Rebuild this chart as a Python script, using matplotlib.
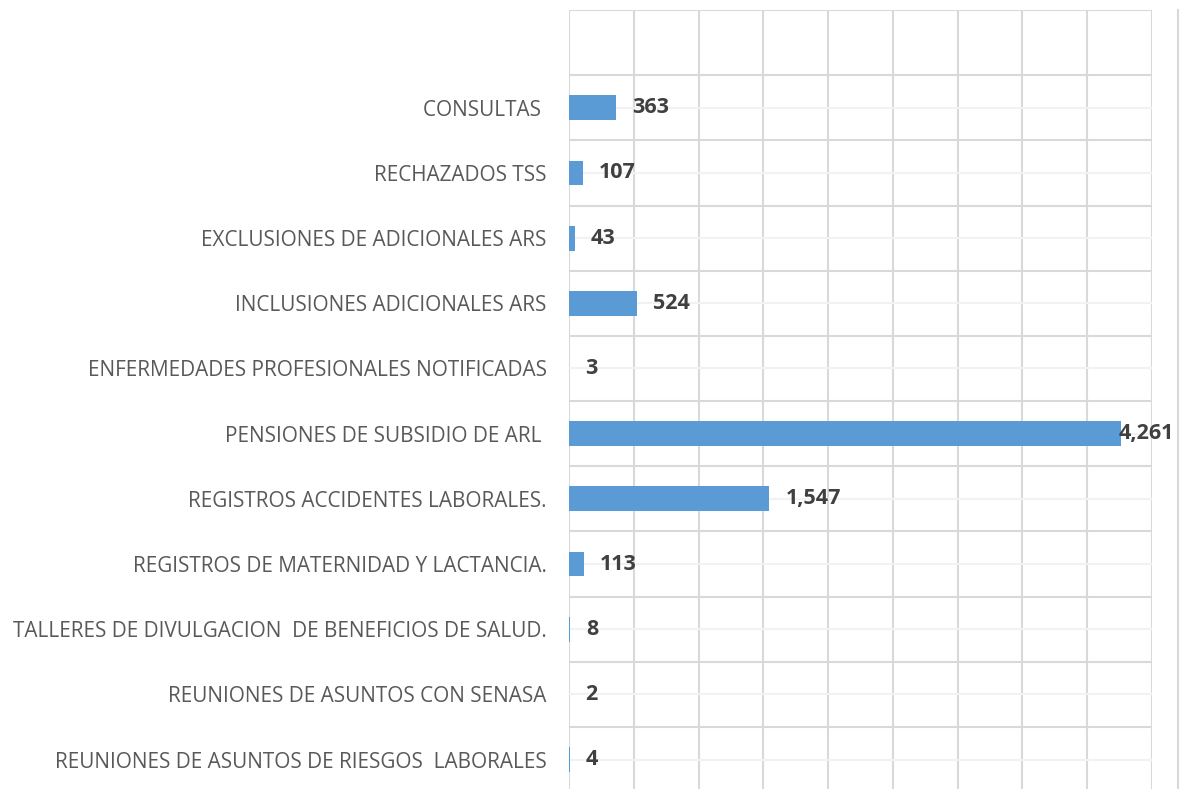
import numpy as np
import matplotlib.pyplot as plt
from matplotlib.lines import Line2D

# categories listed bottom to top
categorias = [
    'REUNIONES DE ASUNTOS DE RIESGOS  LABORALES',
    'REUNIONES DE ASUNTOS CON SENASA',
    'TALLERES DE DIVULGACION  DE BENEFICIOS DE SALUD.',
    'REGISTROS DE MATERNIDAD Y LACTANCIA.',
    'REGISTROS ACCIDENTES LABORALES.',
    'PENSIONES DE SUBSIDIO DE ARL ',
    'ENFERMEDADES PROFESIONALES NOTIFICADAS',
    'INCLUSIONES ADICIONALES ARS',
    'EXCLUSIONES DE ADICIONALES ARS',
    'RECHAZADOS TSS',
    'CONSULTAS ',
]
valores = [4, 2, 8, 113, 1547, 4261, 3, 524, 43, 107, 363]
x_ticks = np.arange(0, 4501, 500)

plt.rcParams['font.family'] = ['Open Sans', 'DejaVu Sans']

fig = plt.figure(figsize=(11.86, 7.89), dpi=100)
ax = fig.add_axes([0.4798, -0.004, 0.4915, 0.9913])

y = np.arange(len(categorias))
ax.barh(y, valores, height=0.38, color='#5B9BD5', zorder=3)

ax.set_xlim(0, 4500)
ax.set_ylim(-0.5, len(categorias) + 0.5)
ax.set_xticks(x_ticks)
ax.set_xticklabels([])
ax.set_yticks(y)
ax.set_yticklabels(categorias, fontsize=14.95, color='#595959')
ax.set_yticks(np.arange(-0.5, len(categorias) + 1, 1), minor=True)
ax.tick_params(axis='both', which='both', length=0)
ax.tick_params(axis='y', pad=16)

ax.grid(axis='x', color='#D9D9D9', linewidth=1.5, zorder=0)
ax.grid(axis='y', which='minor', color='#D9D9D9', linewidth=1.5, zorder=0)
ax.grid(axis='y', which='major', color='#F2F2F2', linewidth=1.5, zorder=0)
for s in ax.spines.values():
    s.set_visible(False)

for yi, v in zip(y, valores):
    off = -2 if v == max(valores) else 16
    ax.annotate(f'{v:,}', (v, yi), xytext=(off * 0.72, 0), textcoords='offset points',
                ha='left', va='center', fontsize=15.5, fontweight='bold',
                color='#404040', zorder=4)

# outer border on the right
fig.add_artist(Line2D([0.9933, 0.9933], [0, 0.987], transform=fig.transFigure,
                      color='#D9D9D9', linewidth=1.5))

fig.savefig('out.png', dpi=100, facecolor='white')
